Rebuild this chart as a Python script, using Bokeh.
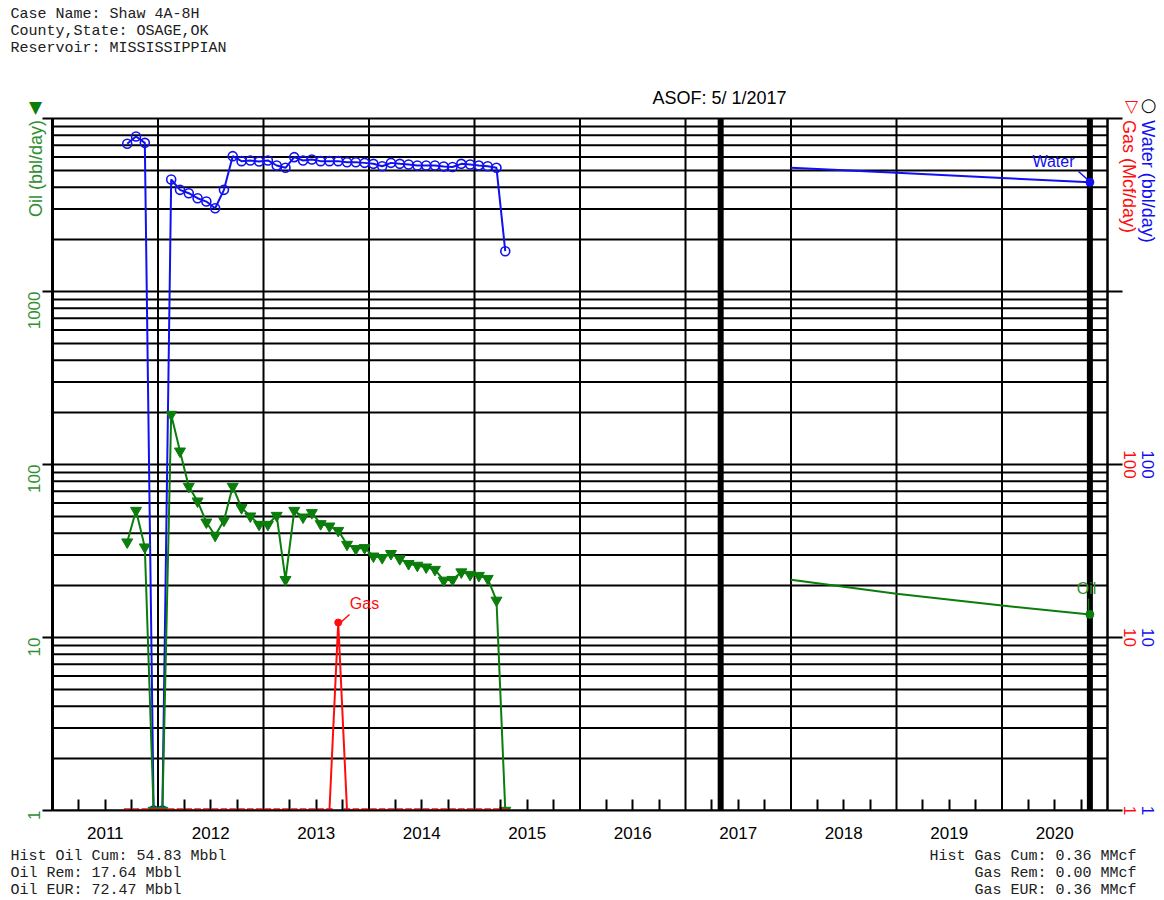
import math
import numpy as np
from bokeh.plotting import figure
from bokeh.models import FixedTicker, LogAxis, LinearAxis, Label, BasicTickFormatter
from bokeh.embed import file_html
from bokeh.resources import INLINE

# ---------------- data ----------------
first_year, first_month = 2011, 9          # monthly history Sep-2011 .. Apr-2015
oil = [35.6, 54.2, 33.3, 0, 0,
       194.5, 119.4, 74.6, 61.4, 46.4, 38.9, 47.5, 74.6, 56.2, 50.3, 45.0,
       45.0, 50.7, 21.6, 54.2, 49.6, 52.6, 45.4, 44.0, 41.5, 34.5, 32.6, 33.0,
       29.5, 28.9, 30.5, 28.5, 26.7, 26.1, 25.5, 24.7, 21.4, 21.6, 23.9, 23.1,
       22.8, 21.9, 16.4, 0]
water = [7140, 7870, 7230, 0, 0,
         4440, 3870, 3700, 3460, 3310, 3030, 3870, 6060, 5670, 5720, 5640,
         5720, 5350, 5190, 5980, 5720, 5800, 5670, 5670, 5670, 5590, 5590, 5540,
         5470, 5300, 5540, 5470, 5420, 5350, 5350, 5350, 5280, 5240, 5470, 5420,
         5350, 5300, 5190, 1710]
gas = [0, 0, 0, 0, 0,
       0, 0, 0, 0, 0, 0, 0, 0, 0, 0, 0,
       0, 0, 0, 0, 0, 0, 0, 0, 12.2, 0, 0, 0,
       0, 0, 0, 0, 0, 0, 0, 0, 0, 0, 0, 0,
       0, 0, 0, 0]

fc_dates = [2018.0, 2019.0, 2020.0, 2020.833]
oil_fc = [21.6, 17.9, 15.3, 13.6]
water_fc = [5190, 4850, 4530, 4285]

asof_date = 2017 + 4 / 12
years = list(range(2011, 2021))
value_ticks = [1, 10, 100, 1000, 10000]
right_labels = [1, 10, 100]

header_lines = ["Case Name: Shaw 4A-8H", "County,State: OSAGE,OK", "Reservoir: MISSISSIPPIAN"]
oil_summary = ["Hist Oil Cum: 54.83 Mbbl", "Oil Rem: 17.64 Mbbl", "Oil EUR: 72.47 Mbbl"]
gas_summary = ["Hist Gas Cum: 0.36 MMcf", "Gas Rem: 0.00 MMcf", "Gas EUR: 0.36 MMcf"]

# ---------------- derived ----------------
n = len(oil)
t = [first_year + (first_month - 1 + i + 0.5) / 12 for i in range(n)]
FLOOR = value_ticks[0]
oil_p = [max(v, FLOOR) for v in oil]
water_p = [max(v, FLOOR) for v in water]
gas_p = [max(v, FLOOR) for v in gas]
x_lo, x_hi = years[0], years[-1] + 1
v_lo, v_hi = value_ticks[0], value_ticks[-1]

GREEN = "#0b7d0b"
GREEN_T = "#2f8f2f"
BLUE = "#1010f0"
RED = "#ff0d0d"
SANS = "Liberation Sans"
MONO = "Liberation Mono"

# canvas geometry: the whole canvas is the frame, plot box drawn inside it
W, H = 1164, 900
BOX_L, BOX_R, BOX_T, BOX_B = 52, 1107, 118, 810
PX_YEAR = (BOX_R - BOX_L) / (x_hi - x_lo)
PX_DEC = (BOX_B - BOX_T) / math.log10(v_hi / v_lo)
x_range = (x_lo - BOX_L / PX_YEAR, x_lo + (W - BOX_L) / PX_YEAR)
y_range = (v_lo * 10 ** (-(H - BOX_B) / PX_DEC), v_lo * 10 ** (BOX_B / PX_DEC))


def at(X, Y):
    """canvas pixel position -> data coordinates (annotation placement only)"""
    return x_lo + (X - BOX_L) / PX_YEAR, v_lo * 10 ** ((BOX_B - Y) / PX_DEC)


p = figure(width=W, height=H, x_range=x_range, y_range=y_range, y_axis_type="log",
           x_axis_location=None, y_axis_location=None,
           output_backend="svg", toolbar_location=None,
           min_border=0, min_border_left=0, min_border_right=0, min_border_top=0, min_border_bottom=0,
           background_fill_color="white", border_fill_color="white")
p.outline_line_color = None
p.title.visible = False
for g in p.grid:
    g.visible = False

# grid lines (year boundaries, decade + sub-decade lines)
minor_vals = [m * 10 ** k for k in range(4) for m in range(2, 10)]
hvals = minor_vals + value_ticks[1:-1]
vyears = years[1:]
p.segment(x0=vyears, y0=[v_lo] * len(vyears), x1=vyears, y1=[v_hi] * len(vyears),
          line_color="black", line_width=2)
p.segment(x0=[x_lo] * len(hvals), y0=hvals, x1=[x_hi] * len(hvals), y1=hvals,
          line_color="black", line_width=2)
# plot box
p.quad(left=[x_lo], right=[x_hi], bottom=[v_lo], top=[v_hi], fill_color=None,
       line_color="black", line_width=2)
# thick vertical markers: as-of date and forecast end
mark_x = [asof_date, fc_dates[-1]]
p.segment(x0=mark_x, y0=[v_lo] * 2, x1=mark_x, y1=[v_hi] * 2, line_color="black", line_width=6)

# bottom axis
xa = LinearAxis(fixed_location=v_lo, bounds=(x_lo, x_hi))
xa.ticker = FixedTicker(ticks=[y + 0.5 for y in years],
                        minor_ticks=[y + q for y in years for q in (0.25, 0.5, 0.75)])
xa.major_label_overrides = {y + 0.5: str(y) for y in years}
xa.major_tick_line_color = None
xa.minor_tick_in = 11
xa.minor_tick_out = 0
xa.minor_tick_line_width = 2
xa.minor_tick_line_color = "black"
xa.axis_line_width = 2
xa.axis_line_color = "black"
xa.major_label_standoff = 10
xa.major_label_text_font = SANS
xa.major_label_text_font_size = "17px"
xa.major_label_text_color = "black"
p.add_layout(xa, "below")

# left axis (oil)
ya = LogAxis(fixed_location=x_lo, bounds=(v_lo, v_hi))
ya.ticker = FixedTicker(ticks=value_ticks)
ya.formatter = BasicTickFormatter(use_scientific=False)
ya.major_label_overrides = {10000: ""}
ya.major_tick_out = 10
ya.major_tick_in = 0
ya.major_tick_line_width = 2
ya.major_tick_line_color = "black"
ya.minor_tick_line_color = None
ya.axis_line_width = 3
ya.axis_line_color = "black"
ya.major_label_orientation = math.pi / 2
ya.major_label_standoff = 9
ya.major_label_text_font = SANS
ya.major_label_text_font_size = "17px"
ya.major_label_text_color = GREEN_T
p.add_layout(ya, "left")

# right axis (gas / water): ticks from the axis, paired coloured labels as text
ra = LogAxis(fixed_location=x_hi, bounds=(v_lo, v_hi),
             ticker=FixedTicker(ticks=value_ticks),
             major_label_text_font_size="0px", major_label_text_color=None,
             major_tick_out=15, major_tick_in=0,
             major_tick_line_width=2, major_tick_line_color="black", minor_tick_line_color=None,
             axis_line_width=2, axis_line_color="black")
p.add_layout(ra, "right")

# history
p.line(t, water_p, line_color=BLUE, line_width=2)
p.scatter(t, water_p, marker="circle", size=9, fill_color=None, line_color=BLUE, line_width=1.6)
p.line(t, oil_p, line_color=GREEN, line_width=2)
p.scatter(t, oil_p, marker="inverted_triangle", size=11, fill_color=GREEN, line_color=GREEN)
p.line(t, gas_p, line_color=RED, line_width=2)
p.scatter(t, gas_p, marker="inverted_triangle", size=6, fill_color=None, line_color=RED, line_width=1.2)

# forecasts
p.line(fc_dates, water_fc, line_color=BLUE, line_width=2)
p.line(fc_dates, oil_fc, line_color=GREEN, line_width=2)
p.scatter([fc_dates[-1]], [water_fc[-1]], marker="circle", size=8, fill_color=BLUE, line_color=BLUE)
p.scatter([fc_dates[-1]], [oil_fc[-1]], marker="circle", size=8, fill_color=GREEN, line_color=GREEN)

# gas peak marker
ig = int(np.argmax(gas))
p.scatter([t[ig]], [gas[ig]], marker="circle", size=7, fill_color=RED, line_color=RED)

# mask: markers sitting on the floor are cut at the plot box edge
p.quad(left=[x_range[0]], right=[x_range[1]], bottom=[y_range[0]], top=[v_lo],
       fill_color="white", line_color=None)


def seg(X0, Y0, X1, Y1, color):
    x0, y0 = at(X0, Y0)
    x1, y1 = at(X1, Y1)
    p.segment([x0], [y0], [x1], [y1], line_color=color, line_width=1.5)


def lab(X, Y, text, color="black", size="17px", font=SANS, align="center", angle=0.0):
    x, y = at(X, Y)
    p.add_layout(Label(x=x, y=y, text=text, text_color=color, text_font_size=size,
                       text_font=font, text_align=align, text_baseline="middle", angle=angle))


# right tick labels (red gas, blue water), centred on the ticks
for v in right_labels:
    for X, col in ((1129.5, RED), (1147.5, BLUE)):
        xr, _ = at(X, 0)
        p.add_layout(Label(x=xr, y=v, text=str(v), text_color=col, text_font_size="17px",
                           text_font=SANS, text_align="center", text_baseline="middle",
                           angle=-math.pi / 2))

# leaders
seg(1078, 171, 1087, 179, BLUE)
seg(1088, 598, 1088, 610, GREEN)
seg(349, 614, 339, 623, RED)

# series labels
lab(1053, 161, "Water", BLUE, "16px")
lab(1086, 588, "Oil", GREEN_T, "16px")
lab(364, 603, "Gas", RED, "16px")

# header / summaries
for i, s in enumerate(header_lines):
    lab(10, 14 + 17 * i, s, "#202020", "15px", MONO, "left")
for i, s in enumerate(oil_summary):
    lab(10, 856 + 17 * i, s, "#202020", "15px", MONO, "left")
for i, s in enumerate(gas_summary):
    lab(1136, 856 + 17 * i, s, "#202020", "15px", MONO, "right")

lab(719, 97, "ASOF: 5/ 1/2017", "black", "18px")

# axis titles and symbols
lab(35, 106, "\u25BC", GREEN, "17px", "DejaVu Sans")
lab(35, 168, "Oil (bbl/day)", GREEN_T, "18px", angle=math.pi / 2)
lab(1148, 104, "\u25CB", "black", "18px", "DejaVu Sans")
lab(1131, 105, "\u25BD", RED, "17px", "DejaVu Sans")
lab(1147, 181, "Water (bbl/day)", BLUE, "18px", angle=-math.pi / 2)
lab(1128, 176, "Gas (Mcf/day)", RED, "18px", angle=-math.pi / 2)

open("out.html", "w").write(file_html(p, INLINE))
